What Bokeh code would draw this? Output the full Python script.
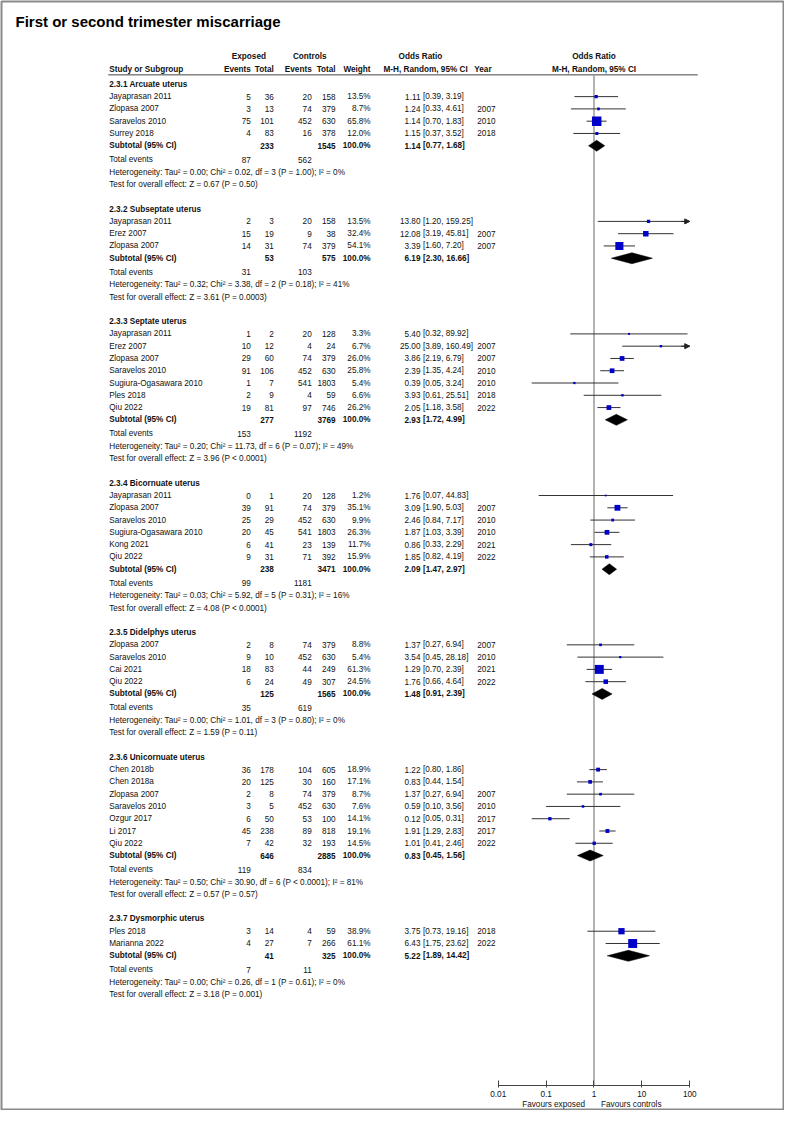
import numpy as np
from bokeh.plotting import figure
from bokeh.models import (ColumnDataSource, Range1d, LogScale, LogAxis, FixedTicker,
                          CustomJSTickFormatter, Arrow, NormalHead)
from bokeh.core.properties import value
from bokeh.embed import file_html
from bokeh.resources import INLINE

# ---------------- data ----------------
TITLE = "First or second trimester miscarriage"
group_names = ["2.3.1 Arcuate uterus", "2.3.2 Subseptate uterus", "2.3.3 Septate uterus",
               "2.3.4 Bicornuate uterus", "2.3.5 Didelphys uterus", "2.3.6 Unicornuate uterus",
               "2.3.7 Dysmorphic uterus"]
study = ["Jayaprasan 2011", "Zlopasa 2007", "Saravelos 2010", "Surrey 2018",
         "Jayaprasan 2011", "Erez 2007", "Zlopasa 2007",
         "Jayaprasan 2011", "Erez 2007", "Zlopasa 2007", "Saravelos 2010", "Sugiura-Ogasawara 2010", "Ples 2018", "Qiu 2022",
         "Jayaprasan 2011", "Zlopasa 2007", "Saravelos 2010", "Sugiura-Ogasawara 2010", "Kong 2021", "Qiu 2022",
         "Zlopasa 2007", "Saravelos 2010", "Cai 2021", "Qiu 2022",
         "Chen 2018b", "Chen 2018a", "Zlopasa 2007", "Saravelos 2010", "Ozgur 2017", "Li 2017", "Qiu 2022",
         "Ples 2018", "Marianna 2022"]
group_idx = [0, 0, 0, 0,
             1, 1, 1,
             2, 2, 2, 2, 2, 2, 2,
             3, 3, 3, 3, 3, 3,
             4, 4, 4, 4,
             5, 5, 5, 5, 5, 5, 5,
             6, 6]
exp_events = [5, 3, 75, 4, 2, 15, 14, 1, 10, 29, 91, 1, 2, 19, 0, 39, 25, 20, 6, 9,
              2, 9, 18, 6, 36, 20, 2, 3, 6, 45, 7, 3, 4]
exp_total = [36, 13, 101, 83, 3, 19, 31, 2, 12, 60, 106, 7, 9, 81, 1, 91, 29, 45, 41, 31,
             8, 10, 83, 24, 178, 125, 8, 5, 50, 238, 42, 14, 27]
ctl_events = [20, 74, 452, 16, 20, 9, 74, 20, 4, 74, 452, 541, 4, 97, 20, 74, 452, 541, 23, 71,
              74, 452, 44, 49, 104, 30, 74, 452, 53, 89, 32, 4, 7]
ctl_total = [158, 379, 630, 378, 158, 38, 379, 128, 24, 379, 630, 1803, 59, 746, 128, 379, 630, 1803, 139, 392,
             379, 630, 249, 307, 605, 160, 379, 630, 100, 818, 193, 59, 266]
weight = [13.5, 8.7, 65.8, 12.0, 13.5, 32.4, 54.1, 3.3, 6.7, 26.0, 25.8, 5.4, 6.6, 26.2,
          1.2, 35.1, 9.9, 26.3, 11.7, 15.9, 8.8, 5.4, 61.3, 24.5,
          18.9, 17.1, 8.7, 7.6, 14.1, 19.1, 14.5, 38.9, 61.1]
or_est = [1.11, 1.24, 1.14, 1.15, 13.80, 12.08, 3.39, 5.40, 25.00, 3.86, 2.39, 0.39, 3.93, 2.05,
          1.76, 3.09, 2.46, 1.87, 0.86, 1.85, 1.37, 3.54, 1.29, 1.76,
          1.22, 0.83, 1.37, 0.59, 0.12, 1.91, 1.01, 3.75, 6.43]
ci_lo = [0.39, 0.33, 0.70, 0.37, 1.20, 3.19, 1.60, 0.32, 3.89, 2.19, 1.35, 0.05, 0.61, 1.18,
         0.07, 1.90, 0.84, 1.03, 0.33, 0.82, 0.27, 0.45, 0.70, 0.66,
         0.80, 0.44, 0.27, 0.10, 0.05, 1.29, 0.41, 0.73, 1.75]
ci_hi = [3.19, 4.61, 1.83, 3.52, 159.25, 45.81, 7.20, 89.92, 160.49, 6.79, 4.24, 3.24, 25.51, 3.58,
         44.83, 5.03, 7.17, 3.39, 2.29, 4.19, 6.94, 28.18, 2.39, 4.64,
         1.86, 1.54, 6.94, 3.56, 0.31, 2.83, 2.46, 19.16, 23.62]
year = ["", "2007", "2010", "2018", "", "2007", "2007", "", "2007", "2007", "2010", "2010", "2018", "2022",
        "", "2007", "2010", "2010", "2021", "2022", "2007", "2010", "2021", "2022",
        "", "", "2007", "2010", "2017", "2017", "2022", "2018", "2022"]

sub_exp_total = [233, 53, 277, 238, 125, 646, 41]
sub_ctl_total = [1545, 575, 3769, 3471, 1565, 2885, 325]
sub_or = [1.14, 6.19, 2.93, 2.09, 1.48, 0.83, 5.22]
sub_lo = [0.77, 2.30, 1.72, 1.47, 0.91, 0.45, 1.89]
sub_hi = [1.68, 16.66, 4.99, 2.97, 2.39, 1.56, 14.42]
tot_exp_events = [87, 31, 153, 99, 35, 119, 7]
tot_ctl_events = [562, 103, 1192, 1181, 619, 834, 11]
het_tau2 = ["0.00", "0.32", "0.20", "0.03", "0.00", "0.50", "0.00"]
het_chi2 = ["0.02", "3.38", "11.73", "5.92", "1.01", "30.90", "0.26"]
het_df = [3, 2, 6, 5, 3, 6, 1]
het_p = ["P = 1.00", "P = 0.18", "P = 0.07", "P = 0.31", "P = 0.80", "P < 0.0001", "P = 0.61"]
het_i2 = [0, 41, 49, 16, 0, 81, 0]
z_val = ["0.67", "3.61", "3.96", "4.08", "1.59", "0.57", "3.18"]
z_p = ["P = 0.50", "P = 0.0003", "P < 0.0001", "P < 0.0001", "P = 0.11", "P = 0.57", "P = 0.001"]

axis_ticks = [0.01, 0.1, 1, 10, 100]
axis_tick_labels = ["0.01", "0.1", "1", "10", "100"]
favours_left = "Favours exposed"
favours_right = "Favours controls"
NULL_OR = 1

# ---------------- layout (pixel units) ----------------
W, H = 784, 1110
FONT = "Liberation Sans"
FS = "8.2px"
TXT = "#111111"
X_LEFT = 108
X_EXP_EV, X_EXP_TOT, X_CTL_EV, X_CTL_TOT, X_W = 250, 273, 311, 335, 370
X_EST, X_CI, X_YEAR = 420, 422.5, 477
X_FOREST_C = 594
PX_DECADE = 48
ROW = 12.3

y_head = []
y_study = []
y_sub, y_tot, y_het, y_test = [], [], [], []
y = 83.0
counts = [group_idx.count(g) for g in range(len(group_names))]
for g, n in enumerate(counts):
    y_head.append(y)
    for k in range(n):
        y_study.append(y + (k + 1) * ROW)
    ys = y + (n + 1) * ROW
    y_sub.append(ys)
    y_tot.append(ys + 14)
    y_het.append(ys + 26.5)
    y_test.append(ys + 39)
    y = ys + 63.5
Y_AXIS = 1086
Y_FAV = 1105

p = figure(width=W, height=H, output_backend="svg", toolbar_location=None,
           x_range=Range1d(0, W), y_range=Range1d(H, 0),
           x_axis_type=None, y_axis_type=None, min_border=1)
p.grid.visible = False
p.outline_line_color = "#8a8a8a"
p.outline_line_width = 2
p.background_fill_color = "white"
p.border_fill_color = "white"

p.extra_x_ranges = {"or": Range1d(10 ** ((0 - X_FOREST_C) / PX_DECADE),
                                  10 ** ((W - X_FOREST_C) / PX_DECADE))}
p.extra_x_scales = {"or": LogScale()}


def txt(xs, ys, texts, align="left", bold=False, size=FS, color=TXT, rng="default", xoff=0):
    src = ColumnDataSource(dict(x=list(xs), y=list(ys), t=[str(t) for t in texts]))
    p.text(x="x", y="y", text="t", source=src, text_align=align, text_baseline="middle",
           text_font=value(FONT), text_font_size=size,
           text_font_style="bold" if bold else "normal", text_color=color,
           x_range_name=rng, x_offset=xoff)


# title
txt([14], [20], [TITLE], bold=True, size="15px", color="#000000")

# headers
txt([248, 309, 420], [55] * 3, ["Exposed", "Controls", "Odds Ratio"], align="center", bold=True)
txt([NULL_OR], [55], ["Odds Ratio"], align="center", bold=True, rng="or")
txt([X_LEFT], [68], ["Study or Subgroup"], bold=True)
txt([X_EXP_EV, X_EXP_TOT, X_CTL_EV, X_CTL_TOT, X_W], [68] * 5,
    ["Events", "Total", "Events", "Total", "Weight"], align="right", bold=True)
txt([383, X_YEAR - 3], [68, 68], ["M-H, Random, 95% CI", "Year"], bold=True)
txt([NULL_OR], [68], ["M-H, Random, 95% CI"], align="center", bold=True, rng="or")
p.segment(x0=[X_LEFT - 1], x1=[698], y0=[73.5], y1=[73.5], line_color="#444", line_width=1)

# null line
p.segment(x0=[NULL_OR], x1=[NULL_OR], y0=[73.5], y1=[Y_AXIS], x_range_name="or",
          line_color="#a0a0a0", line_width=1.6)

# group headers
txt([X_LEFT] * len(y_head), y_head, group_names, bold=True)

# study rows
txt([X_LEFT] * len(study), y_study, study)
txt([X_EXP_EV] * len(study), y_study, exp_events, align="right")
txt([X_EXP_TOT] * len(study), y_study, exp_total, align="right")
txt([X_CTL_EV] * len(study), y_study, ctl_events, align="right")
txt([X_CTL_TOT] * len(study), y_study, ctl_total, align="right")
txt([X_W] * len(study), y_study, [f"{w:.1f}%" for w in weight], align="right")
txt([X_EST] * len(study), y_study, [f"{e:.2f}" for e in or_est], align="right")
txt([X_CI] * len(study), y_study, [f"[{l:.2f}, {h:.2f}]" for l, h in zip(ci_lo, ci_hi)])
txt([X_YEAR] * len(study), y_study, year)

# subtotal rows
ng = len(group_names)
txt([X_LEFT] * ng, y_sub, ["Subtotal (95% CI)"] * ng, bold=True)
txt([X_EXP_TOT] * ng, y_sub, sub_exp_total, align="right", bold=True)
txt([X_CTL_TOT] * ng, y_sub, sub_ctl_total, align="right", bold=True)
txt([X_W] * ng, y_sub, ["100.0%"] * ng, align="right", bold=True)
txt([X_EST] * ng, y_sub, [f"{e:.2f}" for e in sub_or], align="right", bold=True)
txt([X_CI] * ng, y_sub, [f"[{l:.2f}, {h:.2f}]" for l, h in zip(sub_lo, sub_hi)], bold=True)

# total events / heterogeneity / test
txt([X_LEFT] * ng, y_tot, ["Total events"] * ng)
txt([X_EXP_EV] * ng, y_tot, tot_exp_events, align="right")
txt([X_CTL_EV] * ng, y_tot, tot_ctl_events, align="right")
het = [f"Heterogeneity: Tau\u00b2 = {t}; Chi\u00b2 = {c}, df = {d} ({pp}); I\u00b2 = {i}%"
       for t, c, d, pp, i in zip(het_tau2, het_chi2, het_df, het_p, het_i2)]
txt([X_LEFT] * ng, y_het, het)
txt([X_LEFT] * ng, y_test, [f"Test for overall effect: Z = {z} ({pp})" for z, pp in zip(z_val, z_p)])

# forest: CI lines and squares
lo_arr = np.array(ci_lo)
hi_arr = np.array(ci_hi)
lo_clip = np.maximum(lo_arr, axis_ticks[0])
hi_clip = np.minimum(hi_arr, axis_ticks[-1])
w_arr = np.array(weight)
fsrc = ColumnDataSource(dict(y=y_study, est=or_est, lo=lo_clip, hi=hi_clip,
                             size=1.6 + 0.12 * w_arr))
p.segment(x0="lo", x1="hi", y0="y", y1="y", source=fsrc, x_range_name="or",
          line_color="#333333", line_width=1)
p.scatter(x="est", y="y", size="size", marker="square", source=fsrc, x_range_name="or",
          fill_color="#0000c8", line_color=None)

# arrows for CIs beyond the axis
over = hi_arr > axis_ticks[-1]
asrc = ColumnDataSource(dict(xs=list(hi_clip[over] / 1.5), xe=list(hi_clip[over]),
                             y=list(np.array(y_study)[over])))
p.add_layout(Arrow(end=NormalHead(size=5, fill_color="#222", line_color="#222", line_width=1),
                   x_start="xs", x_end="xe", y_start="y", y_end="y", source=asrc,
                   x_range_name="or", line_color="#222", line_width=1))

# subtotal diamonds
dxs = [[l, e, h, e] for l, e, h in zip(sub_lo, sub_or, sub_hi)]
dys = [[yy, yy - 5.5, yy, yy + 5.5] for yy in y_sub]
p.patches(xs="xs", ys="ys", source=ColumnDataSource(dict(xs=dxs, ys=dys)),
          x_range_name="or", fill_color="#000000", line_color="#000000", line_width=0.5)

# axis
ax = LogAxis(x_range_name="or", ticker=FixedTicker(ticks=axis_ticks),
             formatter=CustomJSTickFormatter(
                 args=dict(vals=axis_ticks, labs=axis_tick_labels),
                 code="const i = vals.findIndex(v => Math.abs(Math.log10(v) - Math.log10(tick)) < 1e-6); return i >= 0 ? labs[i] : '';"),
             bounds=(axis_ticks[0], axis_ticks[-1]), fixed_location=Y_AXIS)
ax.axis_line_color = "#444"
ax.axis_line_width = 1
ax.major_tick_line_color = "#444"
ax.major_tick_in = 5
ax.major_tick_out = 2
ax.minor_tick_line_color = None
ax.major_label_text_font = FONT
ax.major_label_text_font_size = FS
ax.major_label_text_color = TXT
ax.major_label_standoff = 3
p.add_layout(ax, "below")

txt([NULL_OR], [Y_FAV], [favours_left], align="right", rng="or", xoff=-9)
txt([NULL_OR], [Y_FAV], [favours_right], align="left", rng="or", xoff=7)

open("out.html", "w").write(file_html(p, INLINE))
